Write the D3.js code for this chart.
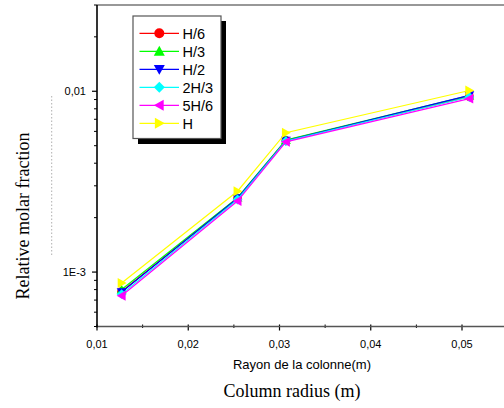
<!DOCTYPE html>
<html><head><meta charset="utf-8">
<script src="https://cdn.jsdelivr.net/npm/d3@7"></script>
<style>body{margin:0;background:#fff}svg{display:block}</style>
</head><body>
<script>
const radius = [0.0127, 0.0254, 0.0307, 0.0508];
const seriesNames = ["H/6", "H/3", "H/2", "2H/3", "5H/6", "H"];
const seriesColors = ["#ff0000", "#00ff00", "#0000ff", "#00ffff", "#ff00ff", "#ffff00"];
const seriesSymbols = ["circle", "triUp", "triDown", "diamond", "triLeft", "triRight"];
const h6  = [7.8e-4, 2.55e-3, 5.35e-3, 9.35e-3];
const h3  = [8.0e-4, 2.58e-3, 5.38e-3, 9.45e-3];
const h2  = [7.75e-4, 2.56e-3, 5.33e-3, 9.5e-3];
const h23 = [7.55e-4, 2.52e-3, 5.30e-3, 9.3e-3];
const h56 = [7.4e-4, 2.47e-3, 5.25e-3, 9.1e-3];
const hFull = [8.7e-4, 2.8e-3, 5.9e-3, 1.01e-2];
const seriesValues = [h6, h3, h2, h23, h56, hFull];
const xTicks = [0.01, 0.02, 0.03, 0.04, 0.05];
const xTickLabels = ["0,01", "0,02", "0,03", "0,04", "0,05"];
const yTicks = [0.001, 0.01];
const yTickLabels = ["1E-3", "0,01"];

const W = 504, H = 408;
const svg = d3.select("body").append("svg").attr("width", W).attr("height", H);
const plotL = 97, plotT = 5, plotB = 326.5;
const x = d3.scaleLinear().domain([0.01, 0.055]).range([plotL, plotL + 4.5 * 91.25]);
const y = d3.scaleLog().domain([5e-4, 0.03]).range([plotB, plotT]);

// frame
svg.append("line").attr("x1", plotL).attr("x2", W).attr("y1", plotT).attr("y2", plotT)
  .attr("stroke", "#333").attr("stroke-width", 1.2);

// minor y ticks
const minorY = [];
[0.0001, 0.001, 0.01].forEach(d => { for (let k = 2; k <= 9; k++) { const v = d * k; if (v >= 5e-4 && v <= 0.03) minorY.push(v); } });
svg.selectAll(".my").data(minorY).enter().append("line")
  .attr("x1", plotL - 3).attr("x2", plotL).attr("y1", d => y(d)).attr("y2", d => y(d))
  .attr("stroke", "#000").attr("stroke-width", 1);
svg.selectAll(".My").data(yTicks).enter().append("line")
  .attr("x1", plotL - 5).attr("x2", plotL).attr("y1", d => y(d)).attr("y2", d => y(d))
  .attr("stroke", "#000").attr("stroke-width", 1.2);
svg.selectAll(".yl").data(yTicks).enter().append("text")
  .attr("x", plotL - 11).attr("y", d => y(d) + 4).attr("text-anchor", "end")
  .attr("font-family", "Liberation Sans, Arial, sans-serif").attr("font-size", 11)
  .text((d, i) => yTickLabels[i]);

// x ticks
const minorX = [0.015, 0.025, 0.035, 0.045, 0.055];
svg.selectAll(".mx").data(minorX).enter().append("line")
  .attr("x1", d => x(d)).attr("x2", d => x(d)).attr("y1", plotB - 2).attr("y2", plotB + 1.5)
  .attr("stroke", "#000").attr("stroke-width", 1);
svg.selectAll(".Mx").data(xTicks).enter().append("line")
  .attr("x1", d => x(d)).attr("x2", d => x(d)).attr("y1", plotB - 2).attr("y2", plotB + 4)
  .attr("stroke", "#000").attr("stroke-width", 1.2);
svg.selectAll(".xl").data(xTicks).enter().append("text")
  .attr("x", d => x(d)).attr("y", plotB + 21).attr("text-anchor", "middle")
  .attr("font-family", "Liberation Sans, Arial, sans-serif").attr("font-size", 11)
  .text((d, i) => xTickLabels[i]);

// axes lines
svg.append("line").attr("x1", plotL).attr("x2", W).attr("y1", plotB).attr("y2", plotB)
  .attr("stroke", "#555").attr("stroke-width", 1.6);
svg.append("line").attr("x1", plotL).attr("x2", plotL).attr("y1", plotT).attr("y2", plotB + 1)
  .attr("stroke", "#000").attr("stroke-width", 1.6);

// symbols
function symPath(s, r) {
  const t = r * 1.1;
  switch (s) {
    case "circle": return d3.symbol(d3.symbolCircle, Math.PI * r * r)();
    case "triUp": return `M0,${-t}L${t},${t * 0.8}L${-t},${t * 0.8}Z`;
    case "triDown": return `M0,${t}L${t},${-t * 0.8}L${-t},${-t * 0.8}Z`;
    case "triLeft": return `M${-t},0L${t * 0.8},${-t}L${t * 0.8},${t}Z`;
    case "triRight": return `M${t},0L${-t * 0.8},${-t}L${-t * 0.8},${t}Z`;
    case "diamond": return `M0,${-t}L${t},0L0,${t}L${-t},0Z`;
  }
}

const line = d3.line().x(d => x(d[0])).y(d => y(d[1]));
seriesNames.forEach((name, i) => {
  const pts = radius.map((r, j) => [r, seriesValues[i][j]]);
  svg.append("path").attr("d", line(pts)).attr("fill", "none")
    .attr("stroke", seriesColors[i]).attr("stroke-width", 1.2);
  svg.selectAll(".p" + i).data(pts).enter().append("path")
    .attr("transform", d => `translate(${x(d[0])},${y(d[1])})`)
    .attr("d", symPath(seriesSymbols[i], 4.5)).attr("fill", seriesColors[i]);
});

// legend
const lg = svg.append("g");
lg.append("rect").attr("x", 138).attr("y", 21).attr("width", 88).attr("height", 123).attr("fill", "#000");
lg.append("rect").attr("x", 133).attr("y", 16).attr("width", 88).attr("height", 122.5)
  .attr("fill", "#fff").attr("stroke", "#555").attr("stroke-width", 1.2);
seriesNames.forEach((name, i) => {
  const cy = 33.3 + i * 18;
  lg.append("line").attr("x1", 139.5).attr("x2", 179).attr("y1", cy).attr("y2", cy)
    .attr("stroke", seriesColors[i]).attr("stroke-width", 1.2);
  lg.append("path").attr("transform", `translate(159.3,${cy})`)
    .attr("d", symPath(seriesSymbols[i], 5)).attr("fill", seriesColors[i]);
  lg.append("text").attr("x", 182.5).attr("y", cy + 5.2)
    .attr("font-family", "Liberation Sans, Arial, sans-serif").attr("font-size", 14.5)
    .text(name);
});

// dotted artifact line
svg.append("line").attr("x1", 51.7).attr("x2", 51.7).attr("y1", 96).attr("y2", 257)
  .attr("stroke", "#999").attr("stroke-width", 0.8).attr("stroke-dasharray", "1.5,2");

// axis titles
svg.append("text").attr("x", 302).attr("y", 368.5).attr("text-anchor", "middle")
  .attr("font-family", "Liberation Sans, Arial, sans-serif").attr("font-size", 13)
  .text("Rayon de la colonne(m)");
svg.append("text").attr("x", 292).attr("y", 397).attr("text-anchor", "middle")
  .attr("font-family", "Liberation Serif, Times New Roman, serif").attr("font-size", 18)
  .text("Column radius (m)");
svg.append("text").attr("transform", "translate(28.5,216) rotate(-90)").attr("text-anchor", "middle")
  .attr("font-family", "Liberation Serif, Times New Roman, serif").attr("font-size", 18)
  .text("Relative molar fraction");
</script>
</body></html>
